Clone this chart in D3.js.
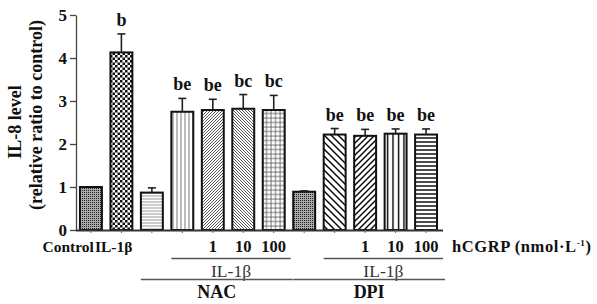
<!DOCTYPE html>
<html>
<head>
<meta charset="utf-8">
<script src="https://cdn.jsdelivr.net/npm/d3@7"></script>
<style>
  body { margin: 0; background: #fff; }
</style>
</head>
<body>
<svg id="chart" width="597" height="304"></svg>
<script>
// bars, left to right
const bars = ["ctrl", "il1b", "nac", "nac0", "nac1", "nac10", "nac100", "dpi", "dpi0", "dpi1", "dpi10", "dpi100"];
const values = [1.0, 4.13, 0.87, 2.75, 2.79, 2.82, 2.79, 0.89, 2.22, 2.19, 2.24, 2.22];
const errors = [0.0, 0.43, 0.11, 0.31, 0.25, 0.33, 0.34, 0.02, 0.14, 0.15, 0.11, 0.13];
const marks = ["", "b", "", "be", "be", "bc", "bc", "", "be", "be", "be", "be"];
const doseLabels = ["", "", "", "", "1", "10", "100", "", "", "1", "10", "100"];
const yTicks = [0, 1, 2, 3, 4, 5];
// fill for each bar
const fills = ["fineDots", "bigCheck", "hGray", "vThin", "diagF", "diagB", "grid", "fineDots", "wideB", "wideF", "vThick", "hThick"];

const FONT = "'Liberation Serif', 'Times New Roman', 'DejaVu Serif', serif";

const svg = d3.select("#chart").style("font-family", FONT);
const x0 = 76, yBase = 230;

const x = d3.scaleBand().domain(bars).range([x0, 441]).paddingInner(0.28).paddingOuter(0.13);
const y = d3.scaleLinear().domain([0, 5]).range([yBase, 15]);

// patterns
const defs = svg.append("defs");
function pat(id, size, draw) {
  const p = defs.append("pattern").attr("id", id).attr("patternUnits", "userSpaceOnUse")
    .attr("width", size[0]).attr("height", size[1]);
  p.append("rect").attr("width", size[0]).attr("height", size[1]).attr("fill", "#fff");
  draw(p);
}
pat("fineDots", [2, 2], p => {
  p.append("rect").attr("width", 2).attr("height", 2).attr("fill", "#aaa");
  p.append("rect").attr("width", 1).attr("height", 1).attr("fill", "#222");
});
pat("bigCheck", [5, 5], p => {
  p.append("rect").attr("width", 2.5).attr("height", 2.5).attr("fill", "#111");
  p.append("rect").attr("x", 2.5).attr("y", 2.5).attr("width", 2.5).attr("height", 2.5).attr("fill", "#111");
});
pat("hGray", [3, 3], p => {
  p.append("line").attr("x1", 0).attr("x2", 3).attr("y1", 1).attr("y2", 1).attr("stroke", "#999").attr("stroke-width", 1);
});
pat("vThin", [4, 4], p => {
  p.append("line").attr("x1", 1).attr("x2", 1).attr("y1", 0).attr("y2", 4).attr("stroke", "#555").attr("stroke-width", 0.8);
});
pat("diagF", [3, 3], p => {
  p.append("path").attr("d", "M-1,1 L1,-1 M0,3 L3,0 M2,4 L4,2").attr("stroke", "#444").attr("stroke-width", 0.9);
});
pat("diagB", [3, 3], p => {
  p.append("path").attr("d", "M-1,2 L1,4 M0,0 L3,3 M2,-1 L4,1").attr("stroke", "#444").attr("stroke-width", 0.9);
});
pat("grid", [4.5, 4.5], p => {
  p.append("path").attr("d", "M0,1 H4.5 M1,0 V4.5").attr("stroke", "#555").attr("stroke-width", 0.8);
});
pat("wideB", [7, 7], p => {
  p.append("path").attr("d", "M-2,5 L2,9 M0,0 L7,7 M5,-2 L9,2").attr("stroke", "#000").attr("stroke-width", 1.4);
});
pat("wideF", [6, 6], p => {
  p.append("path").attr("d", "M-2,2 L2,-2 M0,6 L6,0 M4,8 L8,4").attr("stroke", "#000").attr("stroke-width", 1.4);
});
pat("vThick", [5.5, 5], p => {
  p.append("line").attr("x1", 2.5).attr("x2", 2.5).attr("y1", 0).attr("y2", 5).attr("stroke", "#000").attr("stroke-width", 1.4);
});
pat("hThick", [5, 4], p => {
  p.append("line").attr("x1", 0).attr("x2", 5).attr("y1", 2).attr("y2", 2).attr("stroke", "#000").attr("stroke-width", 1.4);
});

// y axis
const yAxis = svg.append("g").attr("transform", `translate(${x0},0)`)
  .call(d3.axisLeft(y).tickValues(yTicks).tickFormat(d3.format("d")).tickSize(6).tickSizeOuter(0));
yAxis.attr("font-family", null).attr("font-size", null);
yAxis.select(".domain").attr("stroke", "#444").attr("stroke-width", 1.3);
yAxis.selectAll(".tick line").attr("stroke", "#444").attr("stroke-width", 1.3);
yAxis.selectAll(".tick text").style("font-family", FONT).attr("font-weight", "bold")
  .attr("font-size", 17).attr("fill", "#111").attr("x", -9).attr("dy", "0.3em");

// bars
const bw = x.bandwidth();
svg.selectAll("rect.bar").data(bars).enter().append("rect")
  .attr("class", "bar")
  .attr("x", d => x(d))
  .attr("y", (d, i) => y(values[i]))
  .attr("width", bw)
  .attr("height", (d, i) => yBase - y(values[i]))
  .attr("fill", (d, i) => `url(#${fills[i]})`)
  .attr("stroke", "#111").attr("stroke-width", 2);

// error bars
const eb = svg.append("g").attr("stroke", "#222").attr("stroke-width", 1.6);
bars.forEach((d, i) => {
  if (!errors[i]) return;
  const cx = x(d) + bw / 2;
  eb.append("line").attr("x1", cx).attr("x2", cx).attr("y1", y(values[i])).attr("y2", y(values[i] + errors[i]));
  eb.append("line").attr("x1", cx - 4).attr("x2", cx + 4).attr("y1", y(values[i] + errors[i])).attr("y2", y(values[i] + errors[i]));
});

// significance letters
svg.selectAll("text.mark").data(bars).enter().append("text")
  .attr("x", d => x(d) + bw / 2)
  .attr("y", (d, i) => y(values[i] + errors[i]) - 8)
  .attr("text-anchor", "middle").attr("font-weight", "bold").attr("font-size", 18).attr("fill", "#111")
  .text((d, i) => marks[i]);

// x axis
const xAxis = svg.append("g").attr("transform", `translate(0,${yBase})`)
  .call(d3.axisBottom(x).tickSize(3).tickSizeOuter(0).tickFormat(""));
xAxis.select(".domain").attr("stroke", "#333").attr("stroke-width", 1.8).attr("d", `M${x0},0.5H443`);
xAxis.selectAll(".tick line").attr("stroke", "#666");

// dose labels
const bold = "bold";
svg.selectAll("text.dose").data(bars).enter().append("text")
  .attr("x", d => x(d) + bw / 2).attr("y", 252)
  .attr("text-anchor", "middle").attr("font-weight", bold).attr("font-size", 16.5).attr("fill", "#111")
  .text((d, i) => doseLabels[i]);

svg.append("text").attr("x", x("ctrl") + bw / 2 + 3).attr("y", 252).attr("text-anchor", "end")
  .attr("font-weight", bold).attr("font-size", 15.5).attr("fill", "#111").text("Control");
svg.append("text").attr("x", x("il1b") + bw / 2 + 11).attr("y", 252).attr("text-anchor", "end")
  .attr("font-weight", bold).attr("font-size", 15.5).attr("fill", "#111").text("IL-1β");

const hc = svg.append("text").attr("x", 452).attr("y", 252)
  .attr("font-weight", bold).attr("font-size", 16.5).attr("letter-spacing", 0.6).attr("fill", "#111");
hc.append("tspan").text("hCGRP (nmol·L");
hc.append("tspan").attr("font-size", 9).attr("dy", -6).text("-1");
hc.append("tspan").attr("dy", 6).text(")");

// group brackets
const groups = [
  { name: "NAC", inner: ["nac0", "nac100"], outer: ["nac", "nac100"] },
  { name: "DPI", inner: ["dpi0", "dpi100"], outer: ["dpi", "dpi100"] }
];
groups.forEach(g => {
  const ix0 = x(g.inner[0]), ix1 = x(g.inner[1]) + bw + 6;
  const ox0 = x(g.outer[0]), ox1 = x(g.outer[1]) + bw + 8;
  svg.append("line").attr("x1", ix0).attr("x2", ix1).attr("y1", 258.5).attr("y2", 258.5)
    .attr("stroke", "#555").attr("stroke-width", 1.3);
  svg.append("text").attr("x", (ix0 + ix1) / 2).attr("y", 277).attr("text-anchor", "middle")
    .attr("font-size", 17.5).attr("fill", "#333").text("IL-1β");
  svg.append("line").attr("x1", ox0).attr("x2", ox1).attr("y1", 279.5).attr("y2", 279.5)
    .attr("stroke", "#555").attr("stroke-width", 1.3);
  svg.append("text").attr("x", (ox0 + ox1) / 2).attr("y", 298).attr("text-anchor", "middle")
    .attr("font-weight", bold).attr("font-size", 18).attr("fill", "#111").text(g.name);
});

// y title
const yt = svg.append("g").attr("font-weight", bold).attr("fill", "#111");
yt.append("text").attr("transform", "translate(21,122) rotate(-90)").attr("text-anchor", "middle")
  .attr("font-size", 18).text("IL-8 level");
yt.append("text").attr("transform", "translate(42,115) rotate(-90)").attr("text-anchor", "middle")
  .attr("font-size", 18).text("(relative ratio to control)");
</script>
</body>
</html>
